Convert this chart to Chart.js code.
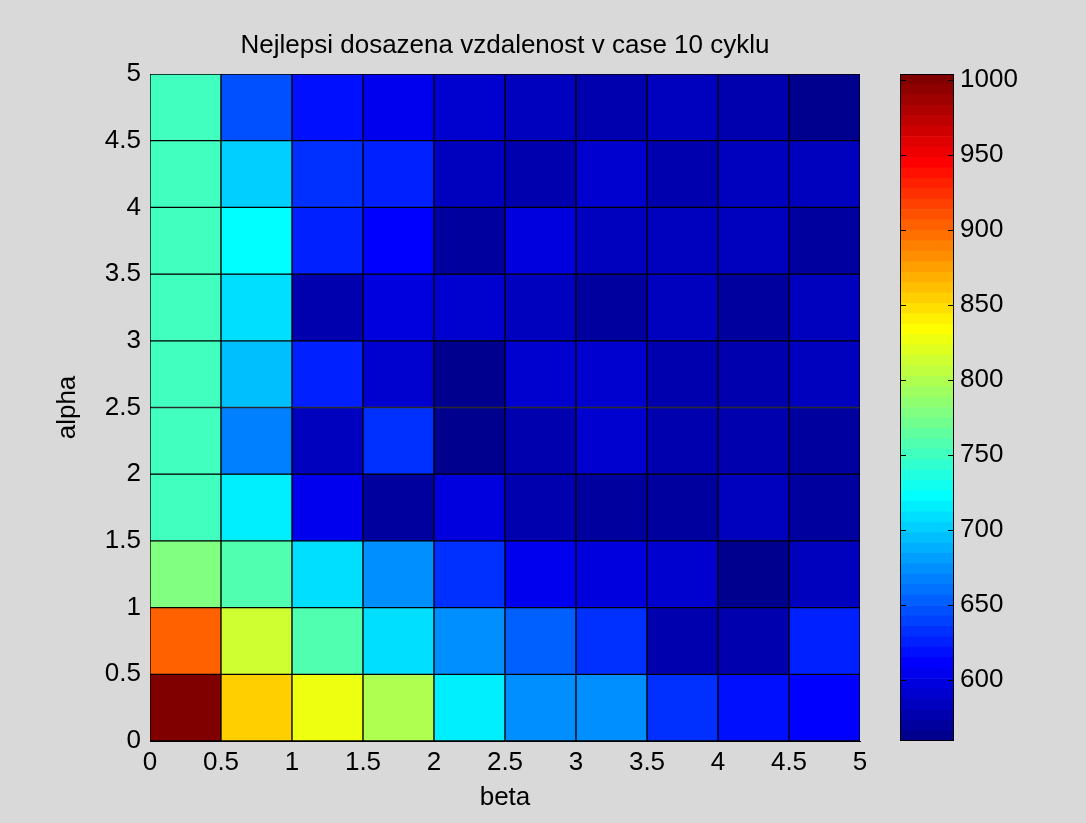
<!DOCTYPE html>
<html>
<head>
<meta charset="utf-8">
<script src="https://cdn.jsdelivr.net/npm/chart.js@4.4.0/dist/chart.umd.min.js"></script>
<style>
  html, body { margin: 0; padding: 0; background: #d9d9d9; }
  #wrap { position: relative; width: 1086px; height: 823px; }
  #heat { position: absolute; left: 0; top: 0; }
  #cbar { position: absolute; left: 880px; top: 0; }
</style>
</head>
<body>
<div id="wrap">
  <canvas id="heat" width="1086" height="823"></canvas>
  <canvas id="cbar" width="206" height="823"></canvas>
</div>
<script>
// beta bins (lower edges), alpha bins (lower edges), bin size 0.5
const betaLo = [0, 0.5, 1, 1.5, 2, 2.5, 3, 3.5, 4, 4.5];
const alphaLo = [0, 0.5, 1, 1.5, 2, 2.5, 3, 3.5, 4, 4.5];
const binSize = 0.5;

// best distance after 10 cycles, one row per alpha bin, columns = beta bins
const alpha00 = [1004, 855, 827, 799, 715, 674, 676, 632, 618, 611];
const alpha05 = [903, 813, 757, 708, 674, 653, 632, 576, 573, 625];
const alpha10 = [778, 757, 708, 674, 632, 604, 597, 587, 559, 580];
const alpha15 = [750, 715, 604, 569, 594, 573, 572, 569, 583, 569];
const alpha20 = [750, 667, 583, 632, 562, 573, 590, 576, 577, 572];
const alpha25 = [751, 694, 625, 590, 562, 587, 590, 576, 573, 583];
const alpha30 = [749, 708, 576, 594, 587, 586, 569, 583, 569, 583];
const alpha35 = [750, 722, 625, 611, 569, 597, 583, 580, 583, 572];
const alpha40 = [751, 701, 632, 625, 580, 576, 590, 573, 583, 580];
const alpha45 = [750, 646, 618, 604, 590, 583, 573, 580, 573, 562];
const rows = [alpha00, alpha05, alpha10, alpha15, alpha20, alpha25, alpha30, alpha35, alpha40, alpha45];

const betaTicks = [0, 0.5, 1, 1.5, 2, 2.5, 3, 3.5, 4, 4.5, 5];
const alphaTicks = [0, 0.5, 1, 1.5, 2, 2.5, 3, 3.5, 4, 4.5, 5];
const cbarTicks = [600, 650, 700, 750, 800, 850, 900, 950, 1000];

const all = rows.flat();
const cmin = Math.min(...all);
const cmax = Math.max(...all);

// matlab jet(64), k = 1..64
function jet(k) {
  const r = k <= 24 ? 0 : k <= 40 ? (k - 24) / 16 : k <= 55 ? 1 : (72 - k) / 16;
  const g = k <= 8 ? 0 : k <= 24 ? (k - 8) / 16 : k <= 39 ? 1 : k <= 55 ? (56 - k) / 16 : 0;
  const b = k <= 8 ? (k + 8) / 16 : k <= 23 ? 1 : k <= 39 ? (40 - k) / 16 : 0;
  return 'rgb(' + Math.round(r * 255) + ',' + Math.round(g * 255) + ',' + Math.round(b * 255) + ')';
}
function colorFor(v) {
  let k = Math.floor((v - cmin) / (cmax - cmin) * 64) + 1;
  if (k > 64) k = 64;
  return jet(k);
}

const font = { family: 'Liberation Sans', size: 26, weight: 'normal' };
Chart.defaults.font = font;
Chart.defaults.color = '#000';

const cells = [];
const cellColors = [];
rows.forEach((row, i) => {
  row.forEach((v, j) => {
    cells.push({ x: betaLo[j] + binSize / 2, y: [alphaLo[i], alphaLo[i] + binSize] });
    cellColors.push(colorFor(v));
  });
});

new Chart(document.getElementById('heat'), {
  type: 'bar',
  data: {
    datasets: [{
      data: cells,
      backgroundColor: cellColors,
      borderColor: '#000',
      borderWidth: 1,
      borderSkipped: false,
      barPercentage: 1,
      categoryPercentage: 1
    }]
  },
  options: {
    responsive: false,
    animation: false,
    devicePixelRatio: 1,
    layout: { padding: { left: 0, right: 226, top: 0, bottom: 0 } },
    plugins: {
      legend: { display: false },
      tooltip: { enabled: false },
      title: {
        display: true,
        fullSize: false,
        text: 'Nejlepsi dosazena vzdalenost v case 10 cyklu',
        color: '#000',
        font: font,
        padding: { top: 30, bottom: 12.8 }
      }
    },
    scales: {
      x: {
        type: 'linear',
        min: 0,
        max: 5,
        offset: false,
        grid: { display: false, drawTicks: false },
        border: { color: '#000' },
        afterBuildTicks: s => { s.ticks = betaTicks.map(v => ({ value: v })); },
        afterFit: s => { s.height = 82; },
        ticks: { padding: 6, maxRotation: 0, autoSkip: false, callback: v => String(v) },
        title: { display: true, text: 'beta', padding: { top: 0, bottom: 10 } }
      },
      y: {
        type: 'linear',
        min: 0,
        max: 5,
        grid: { display: false, drawTicks: false },
        border: { color: '#000' },
        afterBuildTicks: s => { s.ticks = alphaTicks.map(v => ({ value: v })); },
        afterFit: s => { s.width = 150; },
        ticks: { padding: 9, autoSkip: false, callback: v => String(v) },
        title: { display: true, text: 'alpha', padding: { top: 52, bottom: 0 } }
      }
    }
  }
});

// colorbar: 64 bands of the colormap
const bands = [];
for (let k = 1; k <= 64; k++) {
  const lo = cmin + (k - 1) * (cmax - cmin) / 64;
  const hi = cmin + k * (cmax - cmin) / 64;
  bands.push({ data: [[lo, hi]], backgroundColor: jet(k), borderWidth: 0, barPercentage: 1, categoryPercentage: 1, grouped: false });
}

const cbarFrame = {
  id: 'cbarFrame',
  afterDatasetsDraw(chart) {
    const { ctx, chartArea: a } = chart;
    const y = chart.scales.y;
    ctx.save();
    ctx.strokeStyle = '#000';
    ctx.lineWidth = 1;
    ctx.strokeRect(a.left + 0.5, a.top + 0.5, a.width - 1, a.height - 1);
    ctx.beginPath();
    cbarTicks.forEach(v => {
      const py = Math.round(y.getPixelForValue(v)) + 0.5;
      ctx.moveTo(a.left, py); ctx.lineTo(a.left + 6, py);
      ctx.moveTo(a.right - 6, py); ctx.lineTo(a.right, py);
    });
    ctx.stroke();
    ctx.restore();
  }
};

new Chart(document.getElementById('cbar'), {
  type: 'bar',
  data: { labels: [''], datasets: bands },
  options: {
    responsive: false,
    animation: false,
    devicePixelRatio: 1,
    layout: { padding: { left: 20, right: 0, top: 74, bottom: 82 } },
    plugins: { legend: { display: false }, tooltip: { enabled: false } },
    scales: {
      x: { display: false },
      y: {
        position: 'right',
        min: cmin,
        max: cmax,
        grid: { display: false, drawTicks: false },
        border: { display: false },
        afterBuildTicks: s => { s.ticks = cbarTicks.map(v => ({ value: v })); },
        afterFit: s => { s.width = 132; },
        ticks: { padding: 6, autoSkip: false, callback: v => String(v) }
      }
    }
  },
  plugins: [cbarFrame]
});
</script>
</body>
</html>
